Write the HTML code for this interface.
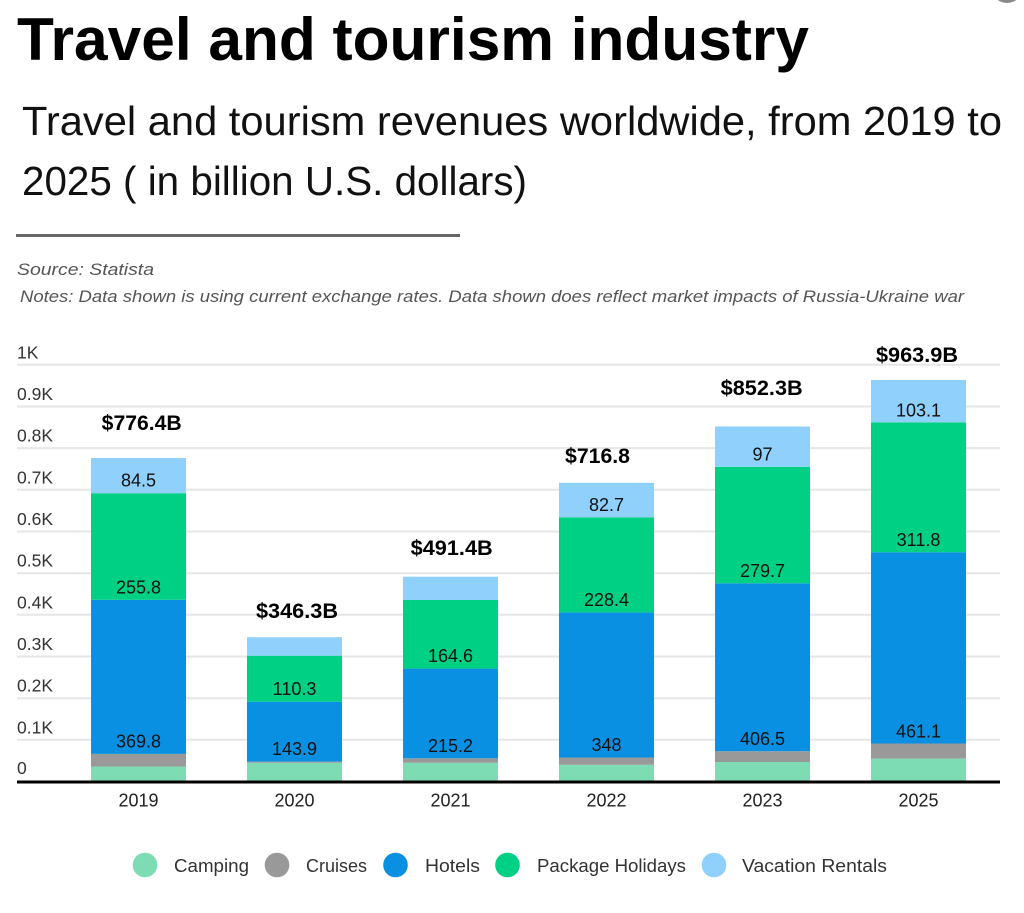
<!DOCTYPE html>
<html>
<head>
<meta charset="utf-8">
<style>
html,body{margin:0;padding:0;background:#fff;}
svg{display:block;}
text{font-family:"Liberation Sans",sans-serif;}
</style>
</head>
<body>
<svg width="1024" height="913" viewBox="0 0 1024 913" xmlns="http://www.w3.org/2000/svg">
<rect width="1024" height="913" fill="#fff"/>
<circle cx="1007" cy="-13" r="16" fill="#8a8a8a"/>

<!-- Header -->
<text x="17" y="60" font-size="60" font-weight="bold" fill="#000" textLength="792" lengthAdjust="spacingAndGlyphs">Travel and tourism industry</text>
<text x="22" y="135" font-size="41" fill="#111" textLength="980" lengthAdjust="spacingAndGlyphs">Travel and tourism revenues worldwide, from 2019 to</text>
<text x="22" y="195" font-size="41" fill="#111" textLength="505" lengthAdjust="spacingAndGlyphs">2025 ( in billion U.S. dollars)</text>
<rect x="16" y="234" width="444" height="3" fill="#666"/>
<text x="17" y="275" font-size="16.5" font-style="italic" fill="#555" textLength="137" lengthAdjust="spacingAndGlyphs">Source: Statista</text>
<text x="20" y="302" font-size="17" font-style="italic" fill="#555" textLength="944" lengthAdjust="spacingAndGlyphs">Notes: Data shown is using current exchange rates. Data shown does reflect market impacts of Russia-Ukraine war</text>

<!-- Gridlines -->
<g stroke="#e6e6e6" stroke-width="2">
<line x1="17" x2="1000" y1="739.8" y2="739.8"/>
<line x1="17" x2="1000" y1="698.2" y2="698.2"/>
<line x1="17" x2="1000" y1="656.5" y2="656.5"/>
<line x1="17" x2="1000" y1="614.8" y2="614.8"/>
<line x1="17" x2="1000" y1="573.2" y2="573.2"/>
<line x1="17" x2="1000" y1="531.5" y2="531.5"/>
<line x1="17" x2="1000" y1="489.8" y2="489.8"/>
<line x1="17" x2="1000" y1="448.1" y2="448.1"/>
<line x1="17" x2="1000" y1="406.5" y2="406.5"/>
<line x1="17" x2="1000" y1="364.8" y2="364.8"/>
</g>

<!-- Y labels -->
<g font-size="17.5" fill="#333">
<text x="17" y="358.3">1K</text>
<text x="17" y="400">0.9K</text>
<text x="17" y="441.6">0.8K</text>
<text x="17" y="483.3">0.7K</text>
<text x="17" y="525">0.6K</text>
<text x="17" y="566.7">0.5K</text>
<text x="17" y="608.3">0.4K</text>
<text x="17" y="650">0.3K</text>
<text x="17" y="691.7">0.2K</text>
<text x="17" y="733.3">0.1K</text>
<text x="17" y="774">0</text>
</g>

<!-- Bars -->
<g>
<rect x="91" y="766.5" width="95" height="15" fill="#7edcb5"/>
<rect x="91" y="753.9" width="95" height="12.6" fill="#999999"/>
<rect x="91" y="599.8" width="95" height="154.1" fill="#0a90e2"/>
<rect x="91" y="493.2" width="95" height="106.6" fill="#00d084"/>
<rect x="91" y="458.0" width="95" height="35.2" fill="#90d0fc"/>
</g>
<g>
<rect x="247" y="762.75" width="95" height="18.75" fill="#7edcb5"/>
<rect x="247" y="761.6" width="95" height="1.15" fill="#999999"/>
<rect x="247" y="701.7" width="95" height="59.9" fill="#0a90e2"/>
<rect x="247" y="655.7" width="95" height="46" fill="#00d084"/>
<rect x="247" y="637.2" width="95" height="18.5" fill="#90d0fc"/>
</g>
<g>
<rect x="403" y="762.75" width="95" height="18.75" fill="#7edcb5"/>
<rect x="403" y="758.3" width="95" height="4.45" fill="#999999"/>
<rect x="403" y="668.6" width="95" height="89.7" fill="#0a90e2"/>
<rect x="403" y="600.0" width="95" height="68.6" fill="#00d084"/>
<rect x="403" y="576.7" width="95" height="23.3" fill="#90d0fc"/>
</g>
<g>
<rect x="559" y="764.8" width="95" height="16.7" fill="#7edcb5"/>
<rect x="559" y="757.5" width="95" height="7.3" fill="#999999"/>
<rect x="559" y="612.4" width="95" height="145.1" fill="#0a90e2"/>
<rect x="559" y="517.3" width="95" height="95.1" fill="#00d084"/>
<rect x="559" y="482.8" width="95" height="34.5" fill="#90d0fc"/>
</g>
<g>
<rect x="715" y="762.0" width="95" height="19.5" fill="#7edcb5"/>
<rect x="715" y="751.2" width="95" height="10.8" fill="#999999"/>
<rect x="715" y="583.3" width="95" height="167.9" fill="#0a90e2"/>
<rect x="715" y="466.8" width="95" height="116.5" fill="#00d084"/>
<rect x="715" y="426.5" width="95" height="40.3" fill="#90d0fc"/>
</g>
<g>
<rect x="871" y="758.6" width="95" height="22.9" fill="#7edcb5"/>
<rect x="871" y="743.5" width="95" height="15.1" fill="#999999"/>
<rect x="871" y="552.2" width="95" height="191.3" fill="#0a90e2"/>
<rect x="871" y="422.3" width="95" height="129.9" fill="#00d084"/>
<rect x="871" y="380" width="95" height="42.3" fill="#90d0fc"/>
</g>

<!-- Axis line -->
<rect x="17" y="780.5" width="983" height="3" fill="#000"/>

<!-- Segment labels -->
<g font-size="18" fill="#111" text-anchor="middle">
<text x="138.5" y="486.7">84.5</text>
<text x="138.5" y="593.3">255.8</text>
<text x="138.5" y="747.4">369.8</text>
<text x="294.5" y="695.2">110.3</text>
<text x="294.5" y="755.1">143.9</text>
<text x="450.5" y="662.1">164.6</text>
<text x="450.5" y="751.8">215.2</text>
<text x="606.5" y="510.8">82.7</text>
<text x="606.5" y="605.9">228.4</text>
<text x="606.5" y="751">348</text>
<text x="762.5" y="460.3">97</text>
<text x="762.5" y="576.8">279.7</text>
<text x="762.5" y="745">406.5</text>
<text x="918.5" y="416.3">103.1</text>
<text x="918.5" y="546.2">311.8</text>
<text x="918.5" y="737.5">461.1</text>
</g>

<!-- Total labels -->
<g font-size="21" font-weight="bold" fill="#000" text-anchor="middle">
<text x="141.7" y="430" textLength="80" lengthAdjust="spacingAndGlyphs">$776.4B</text>
<text x="297" y="618" textLength="82" lengthAdjust="spacingAndGlyphs">$346.3B</text>
<text x="451.7" y="555" textLength="82" lengthAdjust="spacingAndGlyphs">$491.4B</text>
<text x="597.5" y="463" textLength="65" lengthAdjust="spacingAndGlyphs">$716.8</text>
<text x="761.7" y="395" textLength="82" lengthAdjust="spacingAndGlyphs">$852.3B</text>
<text x="917" y="362" textLength="82" lengthAdjust="spacingAndGlyphs">$963.9B</text>
</g>

<!-- X labels -->
<g font-size="18" fill="#222" text-anchor="middle">
<text x="138.5" y="806.5">2019</text>
<text x="294.5" y="806.5">2020</text>
<text x="450.5" y="806.5">2021</text>
<text x="606.5" y="806.5">2022</text>
<text x="762.5" y="806.5">2023</text>
<text x="918.5" y="806.5">2025</text>
</g>

<!-- Legend -->
<g>
<circle cx="145" cy="865" r="12.3" fill="#7edcb5"/>
<circle cx="277" cy="865" r="12.3" fill="#999999"/>
<circle cx="395.5" cy="865" r="12.3" fill="#0a90e2"/>
<circle cx="507.5" cy="865" r="12.3" fill="#00d084"/>
<circle cx="714" cy="865" r="12.3" fill="#90d0fc"/>
</g>
<g font-size="18.5" fill="#333">
<text x="174" y="872" textLength="75" lengthAdjust="spacingAndGlyphs">Camping</text>
<text x="306" y="872" textLength="61" lengthAdjust="spacingAndGlyphs">Cruises</text>
<text x="425" y="872" textLength="55" lengthAdjust="spacingAndGlyphs">Hotels</text>
<text x="537" y="872" textLength="149" lengthAdjust="spacingAndGlyphs">Package Holidays</text>
<text x="742" y="872" textLength="145" lengthAdjust="spacingAndGlyphs">Vacation Rentals</text>
</g>
</svg>
</body>
</html>
